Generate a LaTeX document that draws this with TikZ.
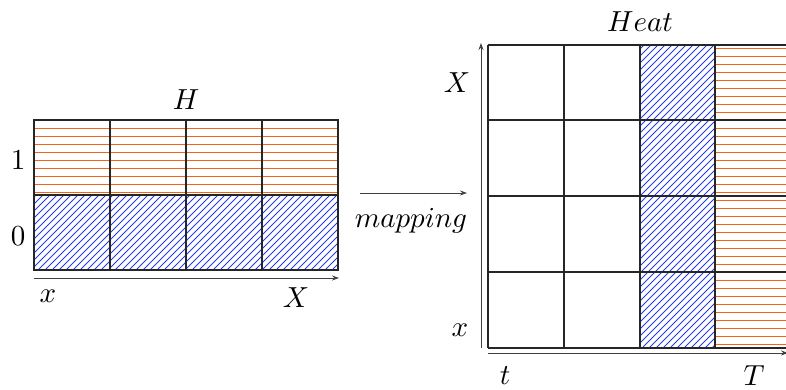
\documentclass[tikz,border=0pt]{standalone}
\usetikzlibrary{arrows.meta}
\definecolor{hatchorange}{RGB}{245,100,20}
\definecolor{hatchblue}{RGB}{40,60,230}
\begin{document}
\begin{tikzpicture}[x=1pt,y=-1pt,
  lbl/.style={scale=2.9,inner sep=0pt},
  cellline/.style={line width=2.9pt,draw={black!85}},
  oline/.style={line width=0.85pt,draw=hatchorange},
  bline/.style={line width=0.8pt,draw=hatchblue},
  axis/.style={line width=1pt,draw={black!75},-{Stealth[length=7pt,width=5pt]}}]
\useasboundingbox (0,0) rectangle (786,390);
% left grid hatching
\begin{scope}
\clip (34,120) rectangle (338,195);
\foreach \yy in {128,136,...,192} \draw[oline] (30,\yy) -- (342,\yy);
\end{scope}
\begin{scope}
\clip (34,195) rectangle (338,270);
\foreach \k in {-60,-53,...,340} \draw[bline] (\k,270) -- (\k+80,190);
\end{scope}
\foreach \xx in {110,186,262} \draw[cellline] (\xx,120) -- (\xx,270);
\draw[cellline] (34,195) -- (338,195);
\draw[cellline] (34,120) rectangle (338,270);
\coordinate (lax0) at (34,278);
\coordinate (lax1) at (339,278);
\draw[axis] (lax0) -- (lax1);
\node[lbl] (H) at (186,100) {$H$};
\node[lbl] (one) at (18,160) {$1$};
\node[lbl] (zero) at (18,236) {$0$};
\node[lbl] (lx) at (48,296) {$x$};
\node[lbl] (lX) at (296,298) {$X$};
% mapping
\coordinate (m0) at (360,193);
\coordinate (m1) at (467,193);
\draw[axis] (m0) -- (m1);
\node[lbl] (map) at (411,221) {$mapping$};
% right grid
\begin{scope}
\clip (640,45) rectangle (715,348);
\foreach \k in {320,327,...,720} \draw[bline] (\k,348) -- (\k+310,38);
\end{scope}
\begin{scope}
\clip (715,45) rectangle (786,348);
\foreach \yy in {48,56,...,344} \draw[oline] (710,\yy) -- (800,\yy);
\end{scope}
\begin{scope}
\clip (480,0) rectangle (786,390);
\foreach \xx in {564,640,715,790} \draw[cellline] (\xx,45) -- (\xx,348);
\foreach \yy in {45,120,196,272,348} \draw[cellline] (488,\yy) -- (800,\yy);
\draw[cellline] (488,45) -- (488,348);
\coordinate (rh0) at (488,353);
\coordinate (rh1) at (788,353);
\draw[axis] (rh0) -- (rh1);
\end{scope}
\coordinate (rv0) at (481,348);
\coordinate (rv1) at (481,43);
\draw[axis] (rv0) -- (rv1);
\node[lbl] (heat) at (640,22) {$Heat$};
\node[lbl] (rX) at (457,83) {$X$};
\node[lbl] (rx) at (460,330) {$x$};
\node[lbl] (rt) at (505,376) {$t$};
\node[lbl] (rT) at (754,376) {$T$};
\end{tikzpicture}
\end{document}
